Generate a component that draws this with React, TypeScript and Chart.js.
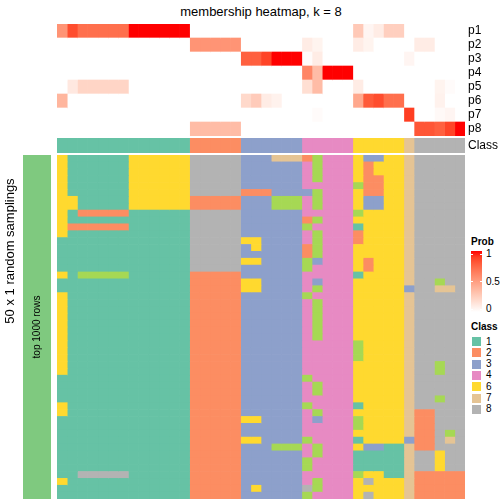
import React, { useEffect, useRef } from "react";
import { Chart, registerables } from "chart.js";

Chart.register(...registerables);

const FONT = "'Liberation Sans', Arial, Helvetica, sans-serif";
Chart.defaults.font.family = FONT;

// ---------- data ----------
const probLabels = ["p1", "p2", "p3", "p4", "p5", "p6", "p7", "p8"];

const p1 = [0.55, 0.85, 0.72, 0.72, 0.72, 0.72, 0.72, 1, 1, 1, 1, 1, 1, 0, 0, 0, 0, 0, 0, 0, 0, 0, 0, 0, 0, 0, 0, 0, 0, 0.28, 0.05, 0.1, 0.25, 0.25, 0, 0, 0, 0, 0, 0];
const p2 = [0, 0, 0, 0, 0, 0, 0, 0, 0, 0, 0, 0, 0, 0.55, 0.55, 0.55, 0.55, 0.55, 0, 0, 0, 0, 0, 0, 0.1, 0.06, 0, 0, 0, 0.1, 0.06, 0, 0, 0, 0, 0.1, 0.1, 0, 0, 0];
const p3 = [0, 0, 0, 0, 0, 0, 0, 0, 0, 0, 0, 0, 0, 0, 0, 0, 0, 0, 0.78, 0.78, 0.88, 1, 1, 1, 0.02, 0.1, 0, 0, 0, 0, 0, 0, 0, 0, 0.05, 0, 0, 0, 0, 0];
const p4 = [0, 0, 0, 0, 0, 0, 0, 0, 0, 0, 0, 0, 0, 0, 0, 0, 0, 0, 0, 0, 0, 0, 0, 0, 0.62, 0.35, 1, 1, 1, 0, 0, 0, 0, 0, 0, 0, 0, 0, 0, 0];
const p5 = [0, 0.12, 0.22, 0.22, 0.22, 0.22, 0.22, 0, 0, 0, 0, 0, 0, 0, 0, 0, 0, 0, 0, 0, 0, 0, 0, 0, 0.17, 0.35, 0, 0, 0, 0.1, 0, 0, 0, 0, 0, 0, 0, 0.06, 0.02, 0];
const p6 = [0.38, 0, 0, 0, 0, 0, 0, 0, 0, 0, 0, 0, 0, 0, 0, 0, 0, 0, 0.2, 0.27, 0.1, 0.07, 0, 0, 0, 0, 0, 0, 0, 0.45, 0.8, 0.85, 0.72, 0.72, 0, 0, 0, 0.07, 0, 0];
const p7 = [0, 0, 0, 0, 0, 0, 0, 0, 0, 0, 0, 0, 0, 0, 0, 0, 0, 0, 0, 0, 0, 0, 0, 0, 0, 0.02, 0, 0, 0, 0, 0, 0, 0, 0, 0.9, 0, 0, 0.03, 0.05, 0];
const p8 = [0, 0, 0, 0, 0, 0, 0, 0, 0, 0, 0, 0, 0, 0.35, 0.35, 0.35, 0.35, 0.35, 0, 0, 0, 0, 0, 0, 0, 0, 0, 0, 0, 0, 0, 0, 0, 0, 0, 0.82, 0.82, 0.78, 0.88, 1];
const probRows = [p1, p2, p3, p4, p5, p6, p7, p8];

const classOfColumn = [
  "1", "1", "1", "1", "1", "1", "1", "1", "1", "1", "1", "1", "1",
  "2", "2", "2", "2", "2",
  "3", "3", "3", "3", "3", "3",
  "4", "4", "4", "4", "4",
  "6", "6", "6", "6", "6",
  "7",
  "8", "8", "8", "8", "8",
];

// 50 random samplings x 40 samples, class per cell
const sampleRows = [
  "6111111666666888883337772544463366788888",
  "6111111666666888883333334544462666788888",
  "6111111666666888883333334544462666788888",
  "6111111666666888883333334544462266788888",
  "6111111666666888883333334444452266788888",
  "6111111666666888882223333544462266788888",
  "6611111666666222223335554544463366788888",
  "6611111666666222223335554544463366788888",
  "6122222111111888883333334444456666788888",
  "6111111111111888883333332544466666788888",
  "6222222111111888883333335444416666788888",
  "6111111111111888883333334544426666788888",
  "1111111111111888886633334544426666788888",
  "1111111111111888883633332544466666788888",
  "1111111111111888883333332544466666788888",
  "1111111111111888886633335344462666788888",
  "1111111111111888883333335444462666788888",
  "6155555111111222223333334444416666788888",
  "1111111111111222226633334344466666788588",
  "1111111111111222226633334544466666388778",
  "6111111111111222223333335444466666788888",
  "6111111111111222223333334544466666788888",
  "6111111111111222223333334544466666788888",
  "6111111111111222223333334544466666788888",
  "6111111111111222223333334544466666788888",
  "6111111111111222223333334544466666788888",
  "6111111111111222223333334544466666788888",
  "6111111111111222223333334444456666788888",
  "6111111111111222223333334444456666788888",
  "6111111111111222223333334444456666788888",
  "6111111111111222223333334444466666788588",
  "6111111111111222223333334444466666788588",
  "1111111111111222223333335444466666788888",
  "1111111111111222223333334544466666788888",
  "1111111111111222223333334544466666788888",
  "1111111111111222223333334444466666788588",
  "6111111111111222223333335444416666788888",
  "6111111111111222223333334544466666722888",
  "1111111111111222226633334344456666722888",
  "1111111111111222223333334444456666722888",
  "1111111111111222223333334444466666722858",
  "1111111111111222226633335444416666322878",
  "1111111111111222223335554544463311722888",
  "1111111111111222223333334544411111788688",
  "1111111111111222223333335444411111788688",
  "1111111111111222223333335444411111788688",
  "1188888111111222223333334444456611722222",
  "6111111111111222223333334544468666722222",
  "1111111111111222223633338544466666722222",
  "1111111111111222223333335444468666722222",
];

const classColors: Record<string, string> = {
  "1": "#66C2A5",
  "2": "#FC8D62",
  "3": "#8DA0CB",
  "4": "#E78AC3",
  "5": "#A6D854",
  "6": "#FFD92F",
  "7": "#E5C494",
  "8": "#B3B3B3",
};
const legendClasses = ["1", "2", "3", "4", "6", "7", "8"];
const probTicks = [1, 0.5, 0];
const annotationColor = "#7FC97F";

// ---------- colour helpers (white -> red in LAB) ----------
function toLin(c: number) {
  c /= 255;
  return c <= 0.04045 ? c / 12.92 : Math.pow((c + 0.055) / 1.055, 2.4);
}
function toSrgb(c: number) {
  const v = c <= 0.0031308 ? 12.92 * c : 1.055 * Math.pow(c, 1 / 2.4) - 0.055;
  return Math.round(Math.min(1, Math.max(0, v)) * 255);
}
function rgbToLab(r: number, g: number, b: number) {
  const R = toLin(r), G = toLin(g), B = toLin(b);
  const X = (0.4124 * R + 0.3576 * G + 0.1805 * B) / 0.95047;
  const Y = 0.2126 * R + 0.7152 * G + 0.0722 * B;
  const Z = (0.0193 * R + 0.1192 * G + 0.9505 * B) / 1.08883;
  const f = (t: number) => (t > 0.008856 ? Math.cbrt(t) : 7.787 * t + 16 / 116);
  const fx = f(X), fy = f(Y), fz = f(Z);
  return [116 * fy - 16, 500 * (fx - fy), 200 * (fy - fz)];
}
function labToRgb(L: number, a: number, b: number) {
  const fy = (L + 16) / 116;
  const fx = fy + a / 500;
  const fz = fy - b / 200;
  const inv = (t: number) => (t * t * t > 0.008856 ? t * t * t : (t - 16 / 116) / 7.787);
  const X = inv(fx) * 0.95047, Y = inv(fy), Z = inv(fz) * 1.08883;
  const R = 3.2406 * X - 1.5372 * Y - 0.4986 * Z;
  const G = -0.9689 * X + 1.8758 * Y + 0.0415 * Z;
  const B = 0.0557 * X - 0.204 * Y + 1.057 * Z;
  return `rgb(${toSrgb(R)},${toSrgb(G)},${toSrgb(B)})`;
}
const LAB_WHITE = rgbToLab(255, 255, 255);
const LAB_RED = rgbToLab(255, 0, 0);
function probColor(p: number) {
  const t = Math.min(1, Math.max(0, p));
  return labToRgb(
    LAB_WHITE[0] + (LAB_RED[0] - LAB_WHITE[0]) * t,
    LAB_WHITE[1] + (LAB_RED[1] - LAB_WHITE[1]) * t,
    LAB_WHITE[2] + (LAB_RED[2] - LAB_WHITE[2]) * t
  );
}

// ---------- layout ----------
const LEFT = 57;
const HM_W = 408;
const LABEL_W = 40;
const nCols = classOfColumn.length;

function rightAxis(show: boolean) {
  return {
    type: "category" as const,
    position: "right" as const,
    display: show,
    grid: { display: false, drawTicks: false },
    border: { display: false },
    ticks: { color: "#000", font: { size: 12, family: FONT }, padding: 3, autoSkip: false },
    afterFit: (s: any) => {
      s.width = show ? LABEL_W : 0;
      s.paddingTop = 0;
      s.paddingBottom = 0;
    },
  };
}

function heatConfig(labels: string[], colorAt: (r: number, c: number) => string, showLabels: boolean) {
  const datasets = classOfColumn.map((_, c) => ({
    data: labels.map(() => [c, c + 1]),
    backgroundColor: labels.map((_, r) => colorAt(r, c)),
    borderWidth: 0,
    barPercentage: 1,
    categoryPercentage: 1,
    grouped: false,
  }));
  return {
    type: "bar" as const,
    data: { labels, datasets },
    options: {
      indexAxis: "y" as const,
      animation: false as const,
      responsive: false,
      events: [],
      layout: { padding: 0 },
      plugins: { legend: { display: false }, tooltip: { enabled: false }, title: { display: false } },
      scales: {
        x: { type: "linear" as const, min: 0, max: nCols, display: false },
        y: rightAxis(showLabels),
      },
    },
  };
}

export default function App() {
  const topRef = useRef<HTMLCanvasElement>(null);
  const classRef = useRef<HTMLCanvasElement>(null);
  const mainRef = useRef<HTMLCanvasElement>(null);
  const annRef = useRef<HTMLCanvasElement>(null);

  useEffect(() => {
    const charts: Chart[] = [];
    charts.push(
      new Chart(topRef.current!, heatConfig(probLabels, (r, c) => probColor(probRows[r][c]), true) as any)
    );
    charts.push(
      new Chart(classRef.current!, heatConfig(["Class"], (_r, c) => classColors[classOfColumn[c]], true) as any)
    );
    const rowLabels = sampleRows.map((_, i) => `s${i + 1}`);
    charts.push(
      new Chart(mainRef.current!, heatConfig(rowLabels, (r, c) => classColors[sampleRows[r][c]], false) as any)
    );
    charts.push(
      new Chart(annRef.current!, {
        type: "bar",
        data: {
          labels: ["top 1000 rows"],
          datasets: [{ data: [1], backgroundColor: annotationColor, borderWidth: 0, barPercentage: 1, categoryPercentage: 1 }],
        },
        options: {
          animation: false,
          responsive: false,
          events: [],
          plugins: { legend: { display: false }, tooltip: { enabled: false } },
          scales: {
            x: { display: false },
            y: { display: false, min: 0, max: 1 },
          },
        },
      } as any)
    );
    return () => charts.forEach((ch) => ch.destroy());
  }, []);

  const abs = (l: number, t: number): React.CSSProperties => ({ position: "absolute", left: l, top: t });
  const gradStops = Array.from({ length: 11 }, (_, i) => `${probColor(i / 10)} ${(i * 10).toFixed(0)}%`).join(",");
  const tickY = (v: number) => 309 - v * 55;

  return (
    <div style={{ position: "absolute", left: 0, top: 0, width: 504, height: 504, background: "#fff", fontFamily: FONT, color: "#000" }}>
      <div style={{ ...abs(LEFT, 3), width: HM_W, textAlign: "center", fontSize: 13, lineHeight: "18px", whiteSpace: "nowrap" }}>
        membership heatmap, k = 8
      </div>
      <canvas ref={topRef} width={HM_W + LABEL_W} height={112} style={{ ...abs(LEFT, 24), display: "block" }} />
      <canvas ref={classRef} width={HM_W + LABEL_W} height={15} style={{ ...abs(LEFT, 138), display: "block" }} />
      <canvas ref={mainRef} width={HM_W} height={344} style={{ ...abs(LEFT, 155), display: "block" }} />
      <canvas ref={annRef} width={28} height={344} style={{ ...abs(23, 155), display: "block" }} />
      <div
        style={{
          ...abs(37 - 60, 327 - 7),
          width: 120,
          height: 14,
          lineHeight: "14px",
          fontSize: 10,
          textAlign: "center",
          transform: "rotate(-90deg)",
          whiteSpace: "nowrap",
        }}
      >
        top 1000 rows
      </div>
      <div
        style={{
          ...abs(10 - 100, 251 - 9),
          width: 200,
          height: 18,
          lineHeight: "18px",
          fontSize: 13,
          textAlign: "center",
          transform: "rotate(-90deg)",
          whiteSpace: "nowrap",
        }}
      >
        50 x 1 random samplings
      </div>

      {/* Prob legend */}
      <div style={{ ...abs(471, 236), fontSize: 10, fontWeight: "bold", lineHeight: "12px" }}>Prob</div>
      <div style={{ ...abs(471, 251), width: 11, height: 61, background: `linear-gradient(to top, ${gradStops})` }} />
      {probTicks.map((v) => (
        <React.Fragment key={v}>
          <div style={{ ...abs(471, tickY(v) - 0.5), width: 2, height: 1, background: "#fff" }} />
          <div style={{ ...abs(480, tickY(v) - 0.5), width: 2, height: 1, background: "#fff" }} />
          <div style={{ ...abs(486, tickY(v) - 6), fontSize: 10, lineHeight: "12px" }}>{String(v)}</div>
        </React.Fragment>
      ))}

      {/* Class legend */}
      <div style={{ ...abs(471, 321), fontSize: 10, fontWeight: "bold", lineHeight: "12px" }}>Class</div>
      {legendClasses.map((k, i) => (
        <React.Fragment key={k}>
          <div
            style={{
              ...abs(471, 336 + i * 11.33),
              width: 11,
              height: 11,
              boxSizing: "border-box",
              border: "1px solid #fff",
              background: classColors[k],
            }}
          />
          <div style={{ ...abs(486, 336 + i * 11.33 - 0.5), fontSize: 10, lineHeight: "12px" }}>{k}</div>
        </React.Fragment>
      ))}
    </div>
  );
}
